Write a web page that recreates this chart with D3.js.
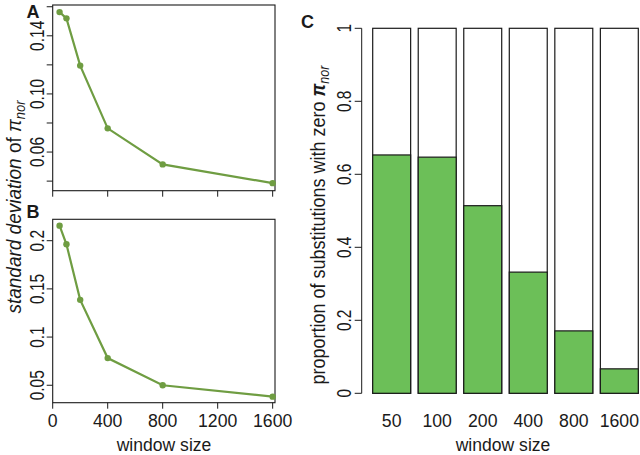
<!DOCTYPE html>
<html><head><meta charset="utf-8">
<script src="https://cdn.jsdelivr.net/npm/d3@7"></script>
<style>
body{margin:0;background:#fff}
text{font-family:"Liberation Sans",Arial,Helvetica,sans-serif;fill:#1a1a1a}
</style>
</head><body>
<svg id="chart" width="640" height="455"></svg>
<script>
// ---------- data ----------
const windowSizes = [50, 100, 200, 400, 800, 1600];
const sdA = [0.1563, 0.1520, 0.1195, 0.0763, 0.0515, 0.0386];
const sdB = [0.2156, 0.1963, 0.1386, 0.0782, 0.0500, 0.0382];
const propZero = [0.653, 0.647, 0.514, 0.332, 0.171, 0.067];
const barLabels = ["50", "100", "200", "400", "800", "1600"];
const xTicks = [0, 400, 800, 1200, 1600];
const yTicksA = [0.04, 0.06, 0.08, 0.10, 0.12, 0.14, 0.16];
const yLabelsA = [[0.06, "0.06"], [0.10, "0.10"], [0.14, "0.14"]];
const yTicksB = [0.05, 0.1, 0.15, 0.2];
const yLabelsB = ["0.05", "0.1", "0.15", "0.2"];
const yTicksC = [0, 0.2, 0.4, 0.6, 0.8, 1];
const yLabelsC = ["0", "0.2", "0.4", "0.6", "0.8", "1"];

// ---------- styles ----------
const lineCol = "#6f9d42";
const barCol = "#6cbf58";
const ink = "#1a1a1a";

const svg = d3.select("#chart");

// ---------- scales ----------
const xLin = d3.scaleLinear().domain([0, 1617]).range([52.7, 275]);
const yA = d3.scaleLinear().domain([0.0334, 0.1612]).range([190.7, 5]);
const yB = d3.scaleLinear().domain([0.0319, 0.2222]).range([402.7, 219.3]);
const xBand = d3.scaleBand().domain(barLabels).range([372.7, 638.3]).paddingInner(0.2 / 1.2).paddingOuter(0);
const yC = d3.scaleLinear().domain([0, 1]).range([393.3, 28.3]);

function vLabel(g, x, y, txt, size, stretch) {
  return g.append("text")
    .attr("transform", `translate(${x},${y}) rotate(-90) scale(1,${stretch})`)
    .attr("text-anchor", "middle")
    .attr("font-size", size)
    .text(txt);
}
function hLabel(g, x, y, txt, size, sx) {
  return g.append("text")
    .attr("transform", `translate(${x},${y}) scale(${sx},1)`)
    .attr("text-anchor", "middle")
    .attr("font-size", size)
    .text(txt);
}

function linePanel(yScale, data, yTicks, yLabels, showX) {
  const g = svg.append("g");
  const [x0, x1] = xLin.range();
  const [yb, yt] = yScale.range();
  g.append("rect").attr("x", x0).attr("y", yt).attr("width", x1 - x0).attr("height", yb - yt)
    .attr("fill", "none").attr("stroke", ink).attr("stroke-width", 1.1);
  g.selectAll(".yt").data(yTicks).join("line")
    .attr("x1", x0 - 6).attr("x2", x0)
    .attr("y1", d => yScale(d)).attr("y2", d => yScale(d))
    .attr("stroke", ink).attr("stroke-width", 1);
  yLabels.forEach(([v, t]) => vLabel(g, 43.5, yScale(v), t, 15.5, 1.3));
  g.selectAll(".xt").data(xTicks).join("line")
    .attr("x1", d => xLin(d)).attr("x2", d => xLin(d))
    .attr("y1", yb).attr("y2", yb + 6)
    .attr("stroke", ink).attr("stroke-width", 1);
  if (showX) xTicks.forEach(t => hLabel(g, xLin(t), 426.5, String(t), 19, 0.93));
  const pts = windowSizes.map((w, i) => [w, data[i]]);
  g.append("path").datum(pts)
    .attr("d", d3.line().x(d => xLin(d[0])).y(d => yScale(d[1])))
    .attr("fill", "none").attr("stroke", lineCol).attr("stroke-width", 2.2);
  g.selectAll("circle").data(pts).join("circle")
    .attr("cx", d => xLin(d[0])).attr("cy", d => yScale(d[1])).attr("r", 3.2)
    .attr("fill", lineCol);
}

linePanel(yA, sdA, yTicksA, yLabelsA, false);
linePanel(yB, sdB, yTicksB, yTicksB.map((v, i) => [v, yLabelsB[i]]), true);

hLabel(svg, 164, 450.5, "window size", 18.5, 0.95);

const lt = svg.append("text")
  .attr("transform", `translate(21,207) rotate(-90) scale(1,1.1)`)
  .attr("text-anchor", "middle").attr("font-size", 19);
lt.append("tspan").attr("font-style", "italic").text("standard deviation");
lt.append("tspan").text(" of ");
lt.append("tspan").attr("font-style", "italic").text("π");
lt.append("tspan").attr("font-style", "italic").attr("font-size", 13).attr("dy", 4).text("nor");

// ---------- panel C ----------
const gc = svg.append("g");
gc.selectAll(".bg").data(barLabels).join("rect")
  .attr("x", d => xBand(d)).attr("y", yC(1))
  .attr("width", xBand.bandwidth()).attr("height", yC(0) - yC(1))
  .attr("fill", "#fff").attr("stroke", ink).attr("stroke-width", 1.2);
gc.selectAll(".fg").data(barLabels.map((l, i) => [l, propZero[i]])).join("rect")
  .attr("x", d => xBand(d[0])).attr("y", d => yC(d[1]))
  .attr("width", xBand.bandwidth()).attr("height", d => yC(0) - yC(d[1]))
  .attr("fill", barCol).attr("stroke", ink).attr("stroke-width", 1.2);
const axX = 361.7;
gc.append("line").attr("x1", axX).attr("x2", axX).attr("y1", yC(0)).attr("y2", yC(1))
  .attr("stroke", ink).attr("stroke-width", 1);
gc.selectAll(".ct").data(yTicksC).join("line")
  .attr("x1", axX - 7).attr("x2", axX)
  .attr("y1", d => yC(d)).attr("y2", d => yC(d))
  .attr("stroke", ink).attr("stroke-width", 1);
yTicksC.forEach((v, i) => vLabel(gc, 350.5, yC(v), yLabelsC[i], 15.5, 1.3));
barLabels.forEach(l => hLabel(gc, xBand(l) + xBand.bandwidth() / 2, 426.5, l, 19, 0.93));
hLabel(svg, 503, 450.5, "window size", 18.5, 0.95);

const rt = svg.append("text")
  .attr("transform", `translate(325,225) rotate(-90) scale(1,1.1)`)
  .attr("text-anchor", "middle").attr("font-size", 18);
rt.append("tspan").text("proportion of substitutions with zero ");
rt.append("tspan").attr("font-style", "italic").attr("font-weight", "bold").text("π");
rt.append("tspan").attr("font-style", "italic").attr("font-size", 12.5).attr("dy", 4).text("nor");

[["A", 33, 18], ["B", 33, 218], ["C", 307.5, 28]].forEach(([t, x, y]) =>
  svg.append("text").attr("x", x).attr("y", y).attr("text-anchor", "middle")
    .attr("font-size", 18).attr("font-weight", "bold").text(t));
</script>
</body></html>
